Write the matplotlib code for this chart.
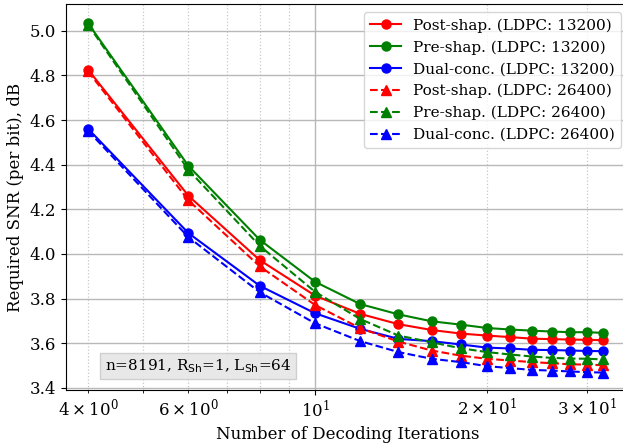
import numpy as np
import matplotlib
matplotlib.use("Agg")
import matplotlib.pyplot as plt

plt.rcParams["font.family"] = "DejaVu Serif"
plt.rcParams["font.size"] = 12

# decoding iterations
iters = [4, 6, 8, 10, 12, 14, 16, 18, 20, 22, 24, 26, 28, 30, 32]

# required SNR per bit (dB), LDPC length 13200
post_13200 = [4.826, 4.260, 3.972, 3.813, 3.731, 3.685, 3.659, 3.643, 3.634,
              3.627, 3.620, 3.618, 3.616, 3.615, 3.613]
pre_13200 = [5.034, 4.394, 4.063, 3.875, 3.775, 3.729, 3.698, 3.683, 3.668,
             3.661, 3.656, 3.652, 3.649, 3.649, 3.646]
dual_13200 = [4.561, 4.093, 3.857, 3.734, 3.664, 3.619, 3.609, 3.594, 3.580,
              3.576, 3.570, 3.569, 3.567, 3.565, 3.564]

# LDPC length 26400
post_26400 = [4.818, 4.240, 3.944, 3.771, 3.667, 3.607, 3.567, 3.544, 3.530,
              3.522, 3.515, 3.510, 3.505, 3.504, 3.501]
pre_26400 = [5.028, 4.376, 4.036, 3.830, 3.708, 3.634, 3.604, 3.577, 3.560,
             3.549, 3.540, 3.534, 3.531, 3.530, 3.527]
dual_26400 = [4.552, 4.075, 3.828, 3.689, 3.609, 3.560, 3.530, 3.515, 3.497,
              3.488, 3.480, 3.477, 3.473, 3.470, 3.468]

fig = plt.figure(figsize=(6.23, 4.45), dpi=100)
W, H = 623, 445
ax = fig.add_axes([66 / W, 55 / H, (629 - 66) / W, (441 - 55) / H])

series = [
    (post_13200, "r", "o-", "Post-shap. (LDPC: 13200)"),
    (pre_13200, "g", "o-", "Pre-shap. (LDPC: 13200)"),
    (dual_13200, "b", "o-", "Dual-conc. (LDPC: 13200)"),
    (post_26400, "r", "^--", "Post-shap. (LDPC: 26400)"),
    (pre_26400, "g", "^--", "Pre-shap. (LDPC: 26400)"),
    (dual_26400, "b", "^--", "Dual-conc. (LDPC: 26400)"),
]
for ys, c, fmt, lbl in series:
    ax.plot(iters, ys, fmt, color=c, lw=1.5, ms=6.5, label=lbl)

ax.set_xscale("log")
ax.set_xlim(3.66, 35.5)
ax.set_ylim(3.39, 5.12)
ax.set_yticks(np.arange(3.4, 5.01, 0.2))
ax.grid(True, which="major", color="#b8b8b8", ls="-", lw=1.0)
ax.grid(True, which="minor", color="#c8c8c8", ls=":", lw=0.9)
ax.set_xlabel("Number of Decoding Iterations")
ax.set_ylabel("Required SNR (per bit), dB")

ax.legend(loc="upper right", bbox_to_anchor=(621 / W, 433 / H),
          bbox_transform=fig.transFigure, fontsize=11, framealpha=0.8,
          handlelength=2.0, borderaxespad=0.0)

ax.text(198 / W, (445 - 366) / H,
        r"n=8191, R$_{\mathrm{Sh}}$=1, L$_{\mathrm{Sh}}$=64",
        transform=fig.transFigure, ha="center", va="center", fontsize=11,
        bbox=dict(boxstyle="square,pad=0.3", facecolor="#e6e6e6",
                  edgecolor="#cccccc", alpha=0.9))

fig.savefig("out.png", dpi=100)
